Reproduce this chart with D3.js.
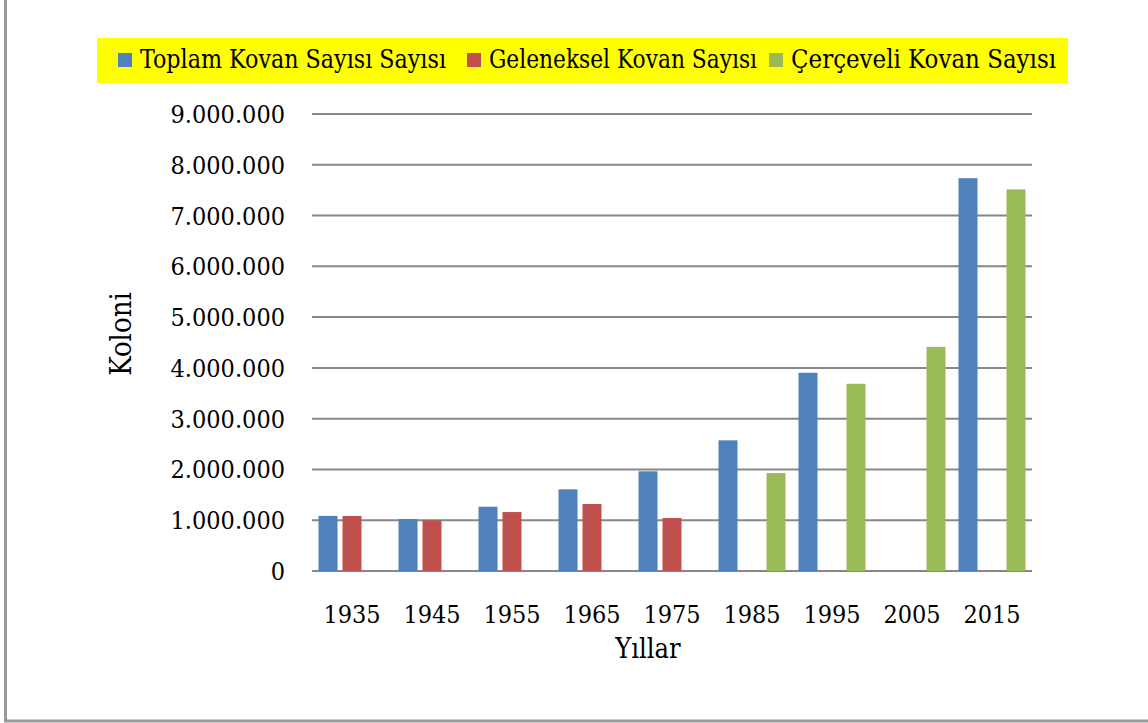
<!DOCTYPE html>
<html><head><meta charset="utf-8">
<script src="https://cdn.jsdelivr.net/npm/d3@7"></script>
<style>
body{margin:0;background:#fff;}
svg text{font-family:"DejaVu Serif Condensed","DejaVu Serif",serif;fill:#000;}
</style></head>
<body><svg id="c" width="1148" height="723"></svg>
<script>
const years = ["1935","1945","1955","1965","1975","1985","1995","2005","2015"];
const seriesNames = ["Toplam Kovan Sayısı Sayısı","Geleneksel Kovan Sayısı","Çerçeveli Kovan Sayısı"];
const toplam    = [1085000, 1024000, 1266000, 1608000, 1963000, 2573000, 3904000, null, 7736000];
const geleneksel= [1083000,  998000, 1161000, 1319000, 1043000, null, null, null, null];
const cerceveli = [null, null, null, null, null, 1929000, 3687000, 4415000, 7514000];
const yTicks = [0,1000000,2000000,3000000,4000000,5000000,6000000,7000000,8000000,9000000];
const colors = ["#4F81BD","#C0504D","#9BBB59"];
const seriesValues = [toplam, geleneksel, cerceveli];

const svg = d3.select("#c");
// frame
svg.append("line").attr("x1",5.5).attr("x2",5.5).attr("y1",0).attr("y2",721).attr("stroke","#999").attr("stroke-width",3);
svg.append("line").attr("x1",4).attr("x2",1148).attr("y1",721).attr("y2",721).attr("stroke","#999").attr("stroke-width",3);

const x0 = d3.scaleBand().domain(years).range([312,1032]).paddingInner(0).paddingOuter(0);
const y = d3.scaleLinear().domain([0,9000000]).range([571,114]);

// gridlines
svg.append("g").selectAll("line").data(yTicks).join("line")
  .attr("x1",312).attr("x2",1032).attr("y1",d=>y(d)).attr("y2",d=>y(d))
  .attr("stroke","#878787").attr("stroke-width",2);

// y labels
const fmt = d => d3.format(",")(d).replace(/,/g,".");
svg.append("g").selectAll("text").data(yTicks).join("text")
  .attr("x",285).attr("y",d=>y(d)).attr("dy","0.36em").attr("text-anchor","end")
  .attr("font-size",25).text(fmt);

// bars
const barW = 19, pitch = 24;
seriesValues.forEach((vals,si)=>{
  svg.append("g").selectAll("rect").data(years.map((yr,i)=>({yr,v:vals[i]})).filter(d=>d.v!=null)).join("rect")
    .attr("x",d=>x0(d.yr)+x0.bandwidth()/2 - 33.5 + si*pitch)
    .attr("width",barW)
    .attr("y",d=>y(d.v)).attr("height",d=>y(0)-y(d.v))
    .attr("fill",colors[si]);
});

// x labels
svg.append("g").selectAll("text").data(years).join("text")
  .attr("x",d=>x0(d)+x0.bandwidth()/2).attr("y",623).attr("text-anchor","middle")
  .attr("font-size",25).text(d=>d);

// axis titles
svg.append("text").attr("x",648).attr("y",658).attr("text-anchor","middle").attr("font-size",27).text("Yıllar");
svg.append("text").attr("transform","translate(131,334) rotate(-90)").attr("text-anchor","middle").attr("font-size",29).text("Koloni");

// legend
svg.append("rect").attr("x",97).attr("y",38).attr("width",971).attr("height",45).attr("fill","#FFFF00");
const legX = [118, 467, 769];
const legW = [306, 268, 265];
seriesNames.forEach((n,i)=>{
  svg.append("rect").attr("x",legX[i]).attr("y",53).attr("width",14).attr("height",14).attr("fill",colors[i]);
  svg.append("text").attr("x",legX[i]+22).attr("y",67.5).attr("font-size",25.5)
    .attr("textLength",legW[i]).attr("lengthAdjust","spacingAndGlyphs").text(n);
});
</script></body></html>
